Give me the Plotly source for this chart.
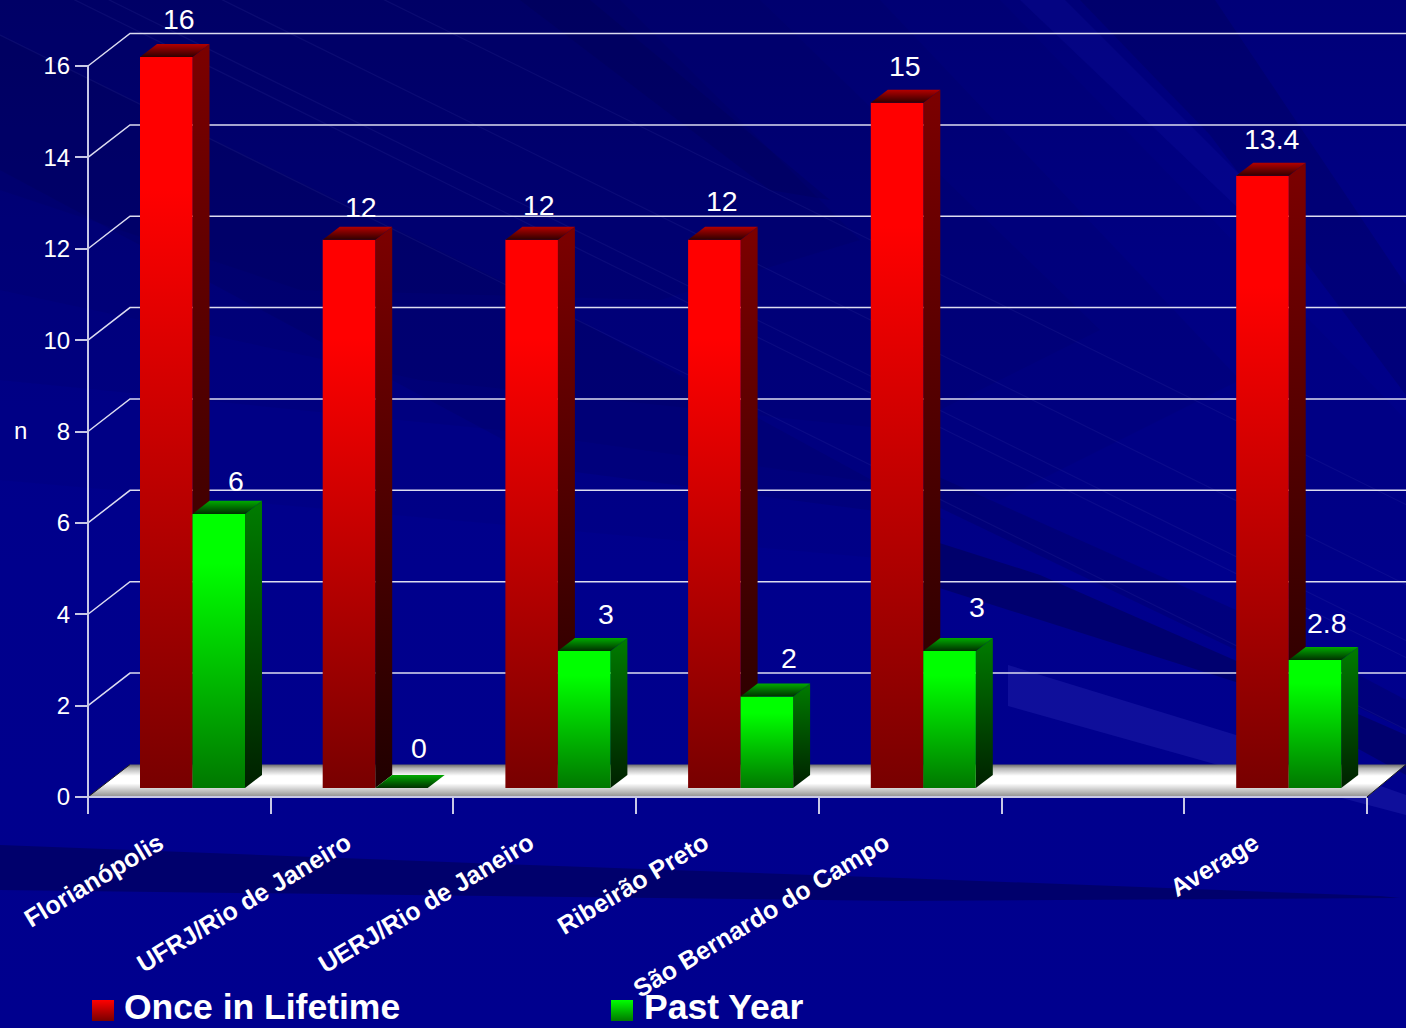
import plotly.graph_objects as go

# ---- data ----
categories = ["Florianópolis", "UFRJ/Rio de Janeiro", "UERJ/Rio de Janeiro",
              "Ribeirão Preto", "São Bernardo do Campo", "", "Average"]
once_in_lifetime = [16, 12, 12, 12, 15, None, 13.4]
past_year = [6, 0, 3, 2, 3, None, 2.8]
y_ticks = [0, 2, 4, 6, 8, 10, 12, 14, 16]

# ---- page geometry ----
W, H = 1406, 1028
LEFT, TOP, BOTTOM = 88, 66, 797
X_UNIT = 182.7                     # pixels per category
Y_UNIT = (BOTTOM - TOP) / 16       # pixels per count


def px(x):
    return (x - LEFT) / X_UNIT


def py(y):
    return (BOTTOM - y) / Y_UNIT


X_MAX = px(W)

# pseudo-3D offsets, in axis units
WALL_DX, WALL_DY = 42 / X_UNIT, 32.5 / Y_UNIT
BAR_DX, BAR_DY = 17 / X_UNIT, 13 / Y_UNIT
BAR_BASE = 9 / Y_UNIT
BAR_W = 52.5 / X_UNIT
BAR_OFFSET = 52 / X_UNIT

fig = go.Figure()


def poly(xs, ys, color=None, gradient=None, name=None):
    """Closed filled polygon; colorscale position 0 is the lowest y of the polygon."""
    kw = dict(fillgradient=dict(type="vertical", colorscale=gradient)) if gradient else dict(fillcolor=color)
    fig.add_trace(go.Scatter(x=xs + xs[:1], y=ys + ys[:1], mode="lines", fill="toself",
                             line=dict(width=0), hoverinfo="skip", showlegend=False,
                             name=name, **kw))


def page_poly(points, color=None, gradient=None):
    poly([px(p[0]) for p in points], [py(p[1]) for p in points], color, gradient)


def line(xs, ys, color, width):
    fig.add_trace(go.Scatter(x=xs, y=ys, mode="lines", line=dict(color=color, width=width),
                             hoverinfo="skip", showlegend=False))


# ---- backdrop: vertical wash plus translucent diagonal bands ----
page_poly([(0, 0), (W, 0), (W, H), (0, H)],
          gradient=[[0, "#00008e"], [0.45, "#00008c"], [0.75, "#000086"], [1, "#000078"]])
DARK = "rgba(0,0,50,{})"
LIGHT = "rgba(30,30,190,{})"
bands = [
    # soft dark wedge in the upper left, built from stacked layers
    ([(0, 0), (1000, 0), (1406, 420), (1406, 560), (900, 560), (0, 480)], DARK.format(0.05)),
    ([(0, 0), (880, 0), (1240, 380), (1000, 500), (500, 430), (0, 380)], DARK.format(0.07)),
    ([(0, 0), (760, 0), (1100, 330), (900, 430), (420, 380), (0, 290)], DARK.format(0.07)),
    ([(0, 0), (620, 0), (860, 240), (660, 300), (300, 290), (0, 190)], DARK.format(0.08)),
    ([(0, 35), (560, 310), (945, 520), (560, 470), (0, 170)], DARK.format(0.10)),
    ([(520, 0), (590, 0), (830, 200), (770, 190)], DARK.format(0.12)),
    ([(1080, 0), (1215, 0), (W, 285), (W, 395), (1210, 135)], DARK.format(0.16)),
    ([(1020, 0), (1065, 0), (1280, 215), (1240, 210)], LIGHT.format(0.14)),
    ([(930, 540), (1040, 575), (W, 735), (W, 775), (1236, 682), (930, 585)], DARK.format(0.32)),
    ([(930, 473), (1236, 610), (W, 700), (W, 730), (1236, 650), (930, 503)], DARK.format(0.16)),
    ([(1008, 665), (1236, 735), (W, 795), (W, 815), (1236, 770), (1008, 706)], "rgba(50,50,190,0.30)"),
    ([(0, 845), (500, 864), (900, 878), (1380, 896), (1400, 898), (900, 901), (0, 890)], DARK.format(0.36)),
]
for points, color in bands:
    page_poly(points, color)

# faint streaks running down to the right
for intercept in (35, -37, -54, -110, -190):
    line([px(0), px(W)], [py(intercept), py(intercept + 0.494 * W)], "rgba(90,90,190,0.12)", 1.2)

# ---- back wall and side wall grid ----
GRID = "#dcdcf0"
for v in y_ticks[1:]:
    line([0, WALL_DX, X_MAX], [v, v + WALL_DY, v + WALL_DY], GRID, 1.5)

# ---- floor slab ----
poly([0, WALL_DX, X_MAX, 7],
     [0, WALL_DY, WALL_DY, 0],
     gradient=[[0, "#8e8e8e"], [0.2, "#c4c4c4"], [0.42, "#ffffff"], [0.65, "#ffffff"],
               [0.88, "#b4b4b4"], [1, "#6a6a6a"]])
line([0, WALL_DX], [0, WALL_DY], "#202020", 1)
line([7, X_MAX], [0, WALL_DY], "#202020", 1)

# ---- axis lines ----
AXIS = "#c8c8e6"
line([0, 0], [0, 16], AXIS, 2)
line([0, 7], [0, 0], AXIS, 2)


# ---- bars ----
def draw_bar(i, slot, value, front, side, cap, name):
    x0 = i + BAR_OFFSET + slot * BAR_W
    x1 = x0 + BAR_W
    y0, y1 = BAR_BASE, BAR_BASE + value
    if value > 0:
        poly([x1, x1 + BAR_DX, x1 + BAR_DX, x1], [y0, y0 + BAR_DY, y1 + BAR_DY, y1], gradient=side)
        poly([x0, x1, x1, x0], [y0, y0, y1, y1], gradient=front, name=name)
    poly([x0, x1, x1 + BAR_DX, x0 + BAR_DX], [y1, y1, y1 + BAR_DY, y1 + BAR_DY], gradient=cap)


RED_FRONT = [[0, "#780000"], [0.82, "#ff0000"], [1, "#ff0000"]]
RED_SIDE = [[0, "#200000"], [1, "#7c0000"]]
RED_CAP = [[0, "#300000"], [1, "#b40000"]]
GREEN_FRONT = [[0, "#007800"], [0.82, "#00ff00"], [1, "#00ff00"]]
GREEN_SIDE = [[0, "#002000"], [1, "#007c00"]]
GREEN_CAP = [[0, "#003000"], [1, "#00aa00"]]

for i in range(len(categories)):
    if once_in_lifetime[i] is not None:
        draw_bar(i, 0, once_in_lifetime[i], RED_FRONT, RED_SIDE, RED_CAP, "Once in Lifetime")
    if past_year[i] is not None:
        draw_bar(i, 1, past_year[i], GREEN_FRONT, GREEN_SIDE, GREEN_CAP, "Past Year")

# ---- value labels ----
red_nudge = [(13, 38), (12, 33), (7, 35), (8, 39), (8, 37), None, (10, 37)]
green_nudge = [(17, 33), (18, 40), (22, 37), (22, 39), (27, 44), None, (12, 37)]
annotations = []
FONT = "Liberation Sans"
for slot, (series, nudge) in enumerate(((once_in_lifetime, red_nudge), (past_year, green_nudge))):
    for i, value in enumerate(series):
        if value is None:
            continue
        annotations.append(dict(
            x=i + BAR_OFFSET + (slot + 0.5) * BAR_W, y=BAR_BASE + value, xref="x", yref="y",
            text=str(value), showarrow=False, xanchor="center", yanchor="middle",
            xshift=nudge[i][0], yshift=nudge[i][1],
            font=dict(family=FONT, size=28.5, color="white")))

# ---- axis letter and legend ----
annotations.append(dict(x=px(20), y=py(430), xref="x", yref="y", text="n", showarrow=False,
                        font=dict(family=FONT, size=24, color="white")))
legend_entries = [("Once in Lifetime", 92, 122, RED_FRONT), ("Past Year", 611, 642, GREEN_FRONT)]
for label, swatch_x, text_x, ramp in legend_entries:
    page_poly([(swatch_x, 1000), (swatch_x + 22, 1000), (swatch_x + 22, 1021), (swatch_x, 1021)],
              gradient=[[0, ramp[0][1]], [1, ramp[-1][1]]])
    annotations.append(dict(x=px(text_x), y=py(1027), xref="x", yref="y", text=f"<b>{label}</b>",
                            showarrow=False, xanchor="left", yanchor="bottom", yshift=-2,
                            font=dict(family=FONT, size=35.5, color="white")))

# small per-label shifts, in pixels, of where each slanted category name ends
label_shift = [-2, 3, 3, -5, -7, 0, -3]

fig.update_layout(
    width=W, height=H, autosize=False,
    margin=dict(l=0, r=0, t=0, b=0, pad=0),
    paper_bgcolor="#00008c", plot_bgcolor="rgba(0,0,0,0)",
    showlegend=False, annotations=annotations,
    font=dict(family=FONT, color="white"),
    # both axes span the page and sit at free positions, so page-wide marks are not clipped
    xaxis=dict(range=[px(0), X_MAX], showgrid=False, zeroline=False, showline=False,
               anchor="free", position=(H - BOTTOM) / H,
               tickmode="array",
               tickvals=[i + 0.4 + label_shift[i] / X_UNIT for i in range(len(categories))],
               ticktext=categories, tickangle=-31, ticks="",
               tickfont=dict(family=FONT, size=25, color="white", weight="bold"),
               ticklabelstandoff=26,
               minor=dict(tickmode="array", tickvals=list(range(len(categories) + 1)),
                          ticks="outside", ticklen=16, tickwidth=1.5, tickcolor=AXIS)),
    yaxis=dict(range=[py(H), py(0)], showgrid=False, zeroline=False, showline=False,
               anchor="free", position=LEFT / W,
               tickmode="array", tickvals=y_ticks,
               ticks="outside", ticklen=13, tickwidth=2, tickcolor=AXIS,
               tickfont=dict(family=FONT, size=24, color="white"),
               ticklabelstandoff=0),
)

fig.write_html("out.html")
